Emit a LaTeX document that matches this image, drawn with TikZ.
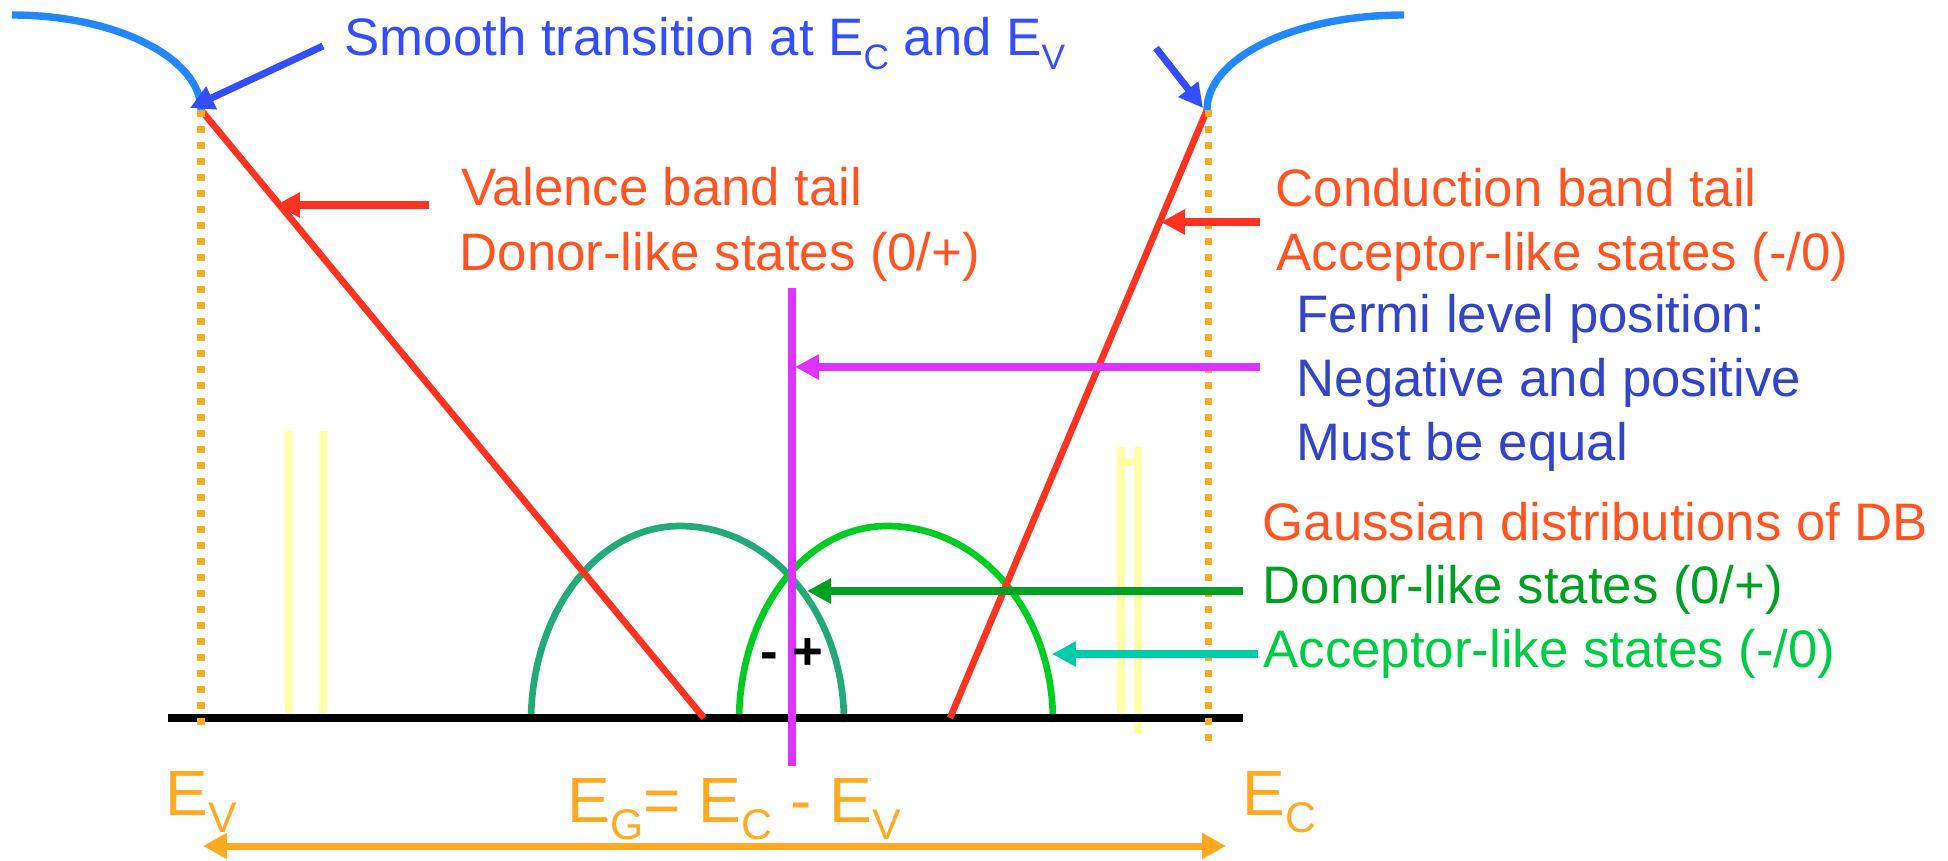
\documentclass[tikz,border=0pt]{standalone}
\usepackage{fontspec}
\setmainfont{Liberation Sans}
\usepackage{graphicx}
\usetikzlibrary{arrows.meta}
\definecolor{tblue}{RGB}{51,77,255}
\definecolor{cblue}{RGB}{34,136,255}
\definecolor{fblue}{RGB}{51,68,204}
\definecolor{ored}{RGB}{255,85,34}
\definecolor{bred}{RGB}{255,51,34}
\definecolor{eorange}{RGB}{255,170,34}
\definecolor{fmag}{RGB}{221,51,255}
\definecolor{dgreen}{RGB}{0,160,34}
\definecolor{lgreen}{RGB}{0,204,34}
\definecolor{agreen}{RGB}{0,204,68}
\definecolor{dteal}{RGB}{34,170,119}
\definecolor{lteal}{RGB}{0,204,170}
\definecolor{lyellow}{RGB}{255,255,170}
\newcommand\lsub[1]{\raisebox{-0.28em}{\scalebox{0.67}{#1}}}
\tikzset{lbl/.style={
    inner sep=0pt,
    anchor=base west,
    font=\fontsize{15}{18}\selectfont
  },
  elbl/.style={lbl,font=\fontsize{18.2}{20}\selectfont,text=eorange},
  arr/.style={line width=2pt,-{Triangle[length=6.8pt,width=6.8pt]}},
  darr/.style={line width=2pt,{Triangle[length=6.8pt,width=7pt]}-{Triangle[length=6.8pt,width=7pt]}},
  bandline/.style={line width=1.9pt,bred},
  curveline/.style={line width=2.1pt,cblue},
  gaussline/.style={line width=1.9pt},
  dotline/.style={line width=0.07cm,eorange,dash pattern=on 0.07cm off 0.09cm},
  yline/.style={line width=0.08cm,lyellow},
}

\begin{document}
\begin{tikzpicture}[x=0.01cm,y=-0.01cm]
  \useasboundingbox (0,0) rectangle (1948,860);
  % band edges and tails
  \coordinate (vtop) at (201,110);
  \coordinate (ctop) at (1207,110);
  \coordinate (vfoot) at (704,718);
  \coordinate (cfoot) at (950,718);
  \coordinate (axl) at (168,718);
  \coordinate (axr) at (1243,718);
  % light yellow marks
  \draw[yline] (289,431) -- (289,718);
  \draw[yline] (323,431) -- (323,718);
  \draw[yline] (1121,447) -- (1121,717);
  \draw[yline] (1138,447) -- (1138,734);
  \draw[yline] (1121,462) -- (1138,462);
  % gaussian distributions
  \draw[gaussline,dteal] (531,722) .. controls (531,612) and (598,526) .. (680,526)
    .. controls (770,526) and (844,612) .. (844,722);
  \draw[gaussline,lgreen] (739,722) .. controls (739,612) and (805,526) .. (887,526)
    .. controls (980,526) and (1053,612) .. (1053,722);
  \draw[line width=2pt] (axl) -- (axr);
  \draw[bandline] (vtop) -- (vfoot);
  \draw[bandline] (ctop) -- (cfoot);
  \draw[dotline] (vtop) -- (201,727);
  \draw[dotline] (1208,110) -- (1208,745);
  \draw[curveline] (12,15) .. controls (116,15) and (201,58) .. (vtop);
  \draw[curveline] (ctop) .. controls (1207,58) and (1294,15) .. (1404,15);
  % fermi level
  \draw[line width=2pt,fmag] (792,288) -- (792,766);
  \node[lbl,font=\fontsize{15}{18}\selectfont\bfseries] (signs) at (760,669) {- +};

  \node[lbl,text=tblue] (title) at (344,55) {Smooth transition at E\lsub{C} and E\lsub{V}};
  \node[lbl,text=ored] (vbt1) at (461,205) {Valence band tail};
  \node[lbl,text=ored] (vbt2) at (459,270) {Donor-like states (0/+)};
  \node[lbl,text=ored] (cbt1) at (1275,206) {Conduction band tail};
  \node[lbl,text=ored] (cbt2) at (1276,270) {Acceptor-like states (-/0)};
  \node[lbl,text=fblue] (fermi1) at (1296,332) {Fermi level position:};
  \node[lbl,text=fblue] (fermi2) at (1296,396) {Negative and positive};
  \node[lbl,text=fblue] (fermi3) at (1296,460) {Must be equal};
  \node[lbl,text=ored] (gauss1) at (1262,540) {Gaussian distributions of DB};
  \node[lbl,text=dgreen] (gauss2) at (1262,603) {Donor-like states (0/+)};
  \node[lbl,text=agreen] (gauss3) at (1263,667) {Acceptor-like states (-/0)};
  \node[elbl] (ev) at (165,815) {E\lsub{V}};
  \node[elbl] (eg) at (567,822) {E\lsub{G}= E\lsub{C} - E\lsub{V}};
  \node[elbl] (ec) at (1242,815) {E\lsub{C}};

  % arrows
  \coordinate (t1) at (323,46);
  \coordinate (t2) at (1156,48);
  \draw[arr,tblue] (t1) -- (190,108);
  \draw[arr,tblue] (t2) -- (1203,108);
  \coordinate (vbtail) at (429,205);
  \coordinate (vbtip) at (276,205);
  \draw[arr,bred] (vbtail) -- (vbtip);
  \coordinate (cbtail) at (1260,222);
  \coordinate (cbtip) at (1161,222);
  \draw[arr,bred] (cbtail) -- (cbtip);
  \coordinate (ftail) at (1260,367);
  \coordinate (ftip) at (795,367);
  \draw[arr,fmag] (ftail) -- (ftip);
  \coordinate (dtail) at (1243,591);
  \coordinate (dtip) at (807,591);
  \draw[arr,dgreen] (dtail) -- (dtip);
  \coordinate (atail) at (1258,654);
  \coordinate (atip) at (1052,654);
  \draw[arr,lteal] (atail) -- (atip);
  \coordinate (egl) at (203,846);
  \coordinate (egr) at (1226,846);
  \draw[darr,eorange] (egl) -- (egr);
\end{tikzpicture}
\end{document}
